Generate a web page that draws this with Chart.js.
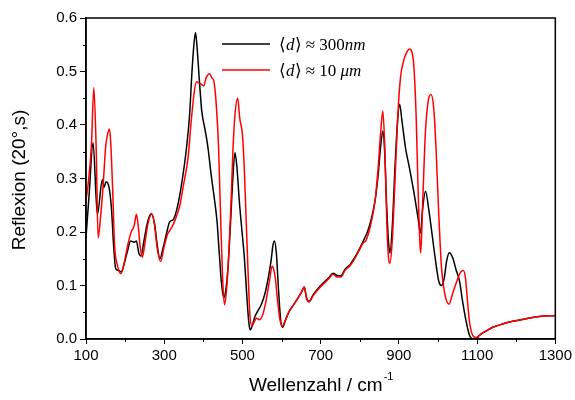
<!DOCTYPE html>
<html>
<head>
<meta charset="utf-8">
<script src="https://cdn.jsdelivr.net/npm/chart.js@4"></script>
<style>
  html, body { margin: 0; padding: 0; background: #fff; }
  #wrap { width: 575px; height: 400px; position: relative; }
</style>
</head>
<body>
<div id="wrap"><canvas id="reflexChart"></canvas></div>
<script>
// wavenumbers (cm^-1) and reflection values
const blackX = [100, 108, 118, 129, 142, 146, 151, 159, 165, 171, 176, 184, 190, 197, 206, 214, 223, 229, 235, 241, 248, 258, 267, 275, 282, 289, 297, 306, 314, 323, 331, 340, 348, 356, 365, 371, 376, 380, 384, 390, 396, 405, 412, 420, 429, 435, 441, 446, 452, 457, 463, 469, 475, 481, 486, 492, 498, 505, 511, 516, 520, 526, 532, 539, 548, 558, 566, 573, 578, 582, 587, 592, 598, 603, 609, 618, 628, 639, 650, 658, 664, 670, 681, 694, 707, 720, 732, 741, 752, 762, 775, 786, 796, 809, 820, 828, 839, 847, 853, 859, 864, 869, 874, 877, 883, 890, 896, 902, 908, 917, 927, 938, 949, 955, 961, 968, 977, 985, 994, 1002, 1009, 1016, 1022, 1029, 1038, 1046, 1055, 1063, 1072, 1080, 1089, 1097, 1106, 1123, 1140, 1165, 1191, 1225, 1259, 1300];
const blackY = [0.19, 0.27, 0.367, 0.233, 0.298, 0.283, 0.294, 0.283, 0.245, 0.17, 0.131, 0.128, 0.125, 0.139, 0.164, 0.183, 0.181, 0.183, 0.161, 0.155, 0.183, 0.22, 0.234, 0.217, 0.176, 0.15, 0.17, 0.198, 0.219, 0.223, 0.239, 0.27, 0.307, 0.351, 0.42, 0.5, 0.551, 0.573, 0.545, 0.482, 0.426, 0.389, 0.357, 0.307, 0.258, 0.22, 0.158, 0.108, 0.077, 0.089, 0.133, 0.208, 0.295, 0.348, 0.32, 0.258, 0.208, 0.151, 0.083, 0.033, 0.017, 0.027, 0.042, 0.052, 0.064, 0.086, 0.114, 0.145, 0.175, 0.183, 0.158, 0.095, 0.033, 0.022, 0.033, 0.049, 0.061, 0.073, 0.086, 0.097, 0.077, 0.07, 0.083, 0.095, 0.105, 0.114, 0.123, 0.119, 0.118, 0.13, 0.139, 0.151, 0.164, 0.183, 0.201, 0.22, 0.258, 0.307, 0.357, 0.389, 0.345, 0.245, 0.176, 0.161, 0.208, 0.32, 0.401, 0.439, 0.407, 0.357, 0.32, 0.276, 0.226, 0.198, 0.245, 0.276, 0.239, 0.195, 0.145, 0.108, 0.1, 0.114, 0.145, 0.161, 0.151, 0.13, 0.108, 0.07, 0.033, 0.008, 0.0, 0.0, 0.007, 0.015, 0.022, 0.028, 0.033, 0.038, 0.042, 0.044];

const redX = [100, 105, 114, 120, 126, 131, 137, 144, 150, 155, 160, 163, 168, 173, 180, 189, 195, 202, 209, 216, 223, 229, 234, 238, 244, 250, 258, 268, 275, 282, 291, 299, 308, 316, 325, 333, 340, 348, 361, 369, 376, 382, 388, 395, 401, 407, 416, 422, 427, 433, 439, 444, 449, 454, 459, 465, 471, 476, 481, 488, 493, 500, 505, 509, 514, 519, 524, 529, 536, 543, 552, 560, 569, 576, 579, 584, 590, 596, 602, 609, 618, 628, 639, 652, 658, 664, 670, 681, 694, 707, 720, 732, 741, 752, 762, 775, 786, 796, 809, 815, 828, 839, 847, 853, 859, 864, 869, 874, 877, 883, 890, 897, 904, 913, 921, 927, 933, 938, 944, 949, 954, 956, 961, 968, 975, 982, 989, 995, 1002, 1009, 1017, 1028, 1038, 1049, 1058, 1065, 1070, 1075, 1080, 1086, 1092, 1098, 1106, 1123, 1140, 1165, 1191, 1225, 1259, 1300];
const redY = [0.26, 0.286, 0.364, 0.47, 0.357, 0.189, 0.226, 0.289, 0.357, 0.382, 0.392, 0.37, 0.283, 0.176, 0.139, 0.122, 0.133, 0.158, 0.183, 0.201, 0.211, 0.233, 0.208, 0.176, 0.153, 0.176, 0.214, 0.233, 0.214, 0.17, 0.145, 0.17, 0.195, 0.205, 0.217, 0.233, 0.25, 0.283, 0.339, 0.407, 0.457, 0.481, 0.479, 0.476, 0.473, 0.488, 0.496, 0.488, 0.482, 0.439, 0.357, 0.233, 0.12, 0.064, 0.089, 0.158, 0.258, 0.357, 0.42, 0.45, 0.413, 0.382, 0.314, 0.233, 0.133, 0.046, 0.024, 0.03, 0.039, 0.036, 0.046, 0.07, 0.108, 0.136, 0.133, 0.114, 0.07, 0.036, 0.024, 0.034, 0.05, 0.061, 0.073, 0.089, 0.097, 0.075, 0.069, 0.081, 0.093, 0.103, 0.112, 0.121, 0.116, 0.116, 0.128, 0.137, 0.149, 0.162, 0.18, 0.183, 0.214, 0.258, 0.32, 0.382, 0.426, 0.357, 0.22, 0.148, 0.142, 0.183, 0.295, 0.414, 0.488, 0.522, 0.537, 0.542, 0.537, 0.513, 0.42, 0.283, 0.176, 0.161, 0.258, 0.389, 0.445, 0.457, 0.432, 0.357, 0.233, 0.133, 0.086, 0.065, 0.086, 0.11, 0.125, 0.128, 0.115, 0.075, 0.035, 0.012, 0.004, 0.003, 0.007, 0.015, 0.022, 0.028, 0.033, 0.038, 0.042, 0.044];

const xTicks = [100, 300, 500, 700, 900, 1100, 1300];
const xMinorTicks = [200, 400, 600, 800, 1000, 1200];
const yTicks = [0, 0.1, 0.2, 0.3, 0.4, 0.5, 0.6];
const yMinorTicks = [0.05, 0.15, 0.25, 0.35, 0.45, 0.55];

const toPoints = (xs, ys) => xs.map((x, i) => ({ x: x, y: ys[i] }));
const SANS = "'Liberation Sans', Arial, sans-serif";
const SERIF = "'Liberation Serif', 'Times New Roman', serif";

// frame, minor ticks, axis titles and the legend
const decorPlugin = {
  id: "decor",
  afterDraw(chart) {
    const c = chart.ctx;
    const a = chart.chartArea;
    const xs = chart.scales.x;
    const ys = chart.scales.y;
    c.save();
    c.strokeStyle = "#000";
    c.lineWidth = 1.5;
    c.strokeRect(a.left, a.top, a.right - a.left, a.bottom - a.top);

    c.lineWidth = 1;
    c.beginPath();
    xMinorTicks.forEach(v => {
      const px = Math.round(xs.getPixelForValue(v)) + 0.5;
      c.moveTo(px, a.bottom);
      c.lineTo(px, a.bottom + 3);
    });
    yMinorTicks.forEach(v => {
      const py = Math.round(ys.getPixelForValue(v)) + 0.5;
      c.moveTo(a.left, py);
      c.lineTo(a.left - 3, py);
    });
    c.stroke();

    // x axis title, cm^-1 with a raised exponent
    c.fillStyle = "#000";
    c.textBaseline = "alphabetic";
    c.textAlign = "left";
    const main = "Wellenzahl / cm";
    c.font = "19px " + SANS;
    const wMain = c.measureText(main).width;
    c.font = "11px " + SANS;
    const wSup = c.measureText("-1").width;
    const startX = (a.left + a.right) / 2 - (wMain + wSup) / 2;
    c.font = "19px " + SANS;
    c.fillText(main, startX, 391);
    c.font = "11px " + SANS;
    c.fillText("-1", startX + wMain + 1, 380);

    // y axis title
    c.save();
    c.translate(25, 180);
    c.rotate(-Math.PI / 2);
    c.textAlign = "center";
    c.font = "19px " + SANS;
    c.fillText("Reflexion (20°,s)", 0, 0);
    c.restore();

    // legend
    const entries = [
      { color: "#000000", y: 44, parts: [["⟨", false], ["d", true], ["⟩", false], [" ≈ 300", false], ["nm", true]] },
      { color: "#ff0000", y: 70, parts: [["⟨", false], ["d", true], ["⟩", false], [" ≈ 10 ", false], ["μm", true]] }
    ];
    entries.forEach(e => {
      c.strokeStyle = e.color;
      c.lineWidth = 1.5;
      c.beginPath();
      c.moveTo(222, e.y);
      c.lineTo(270, e.y);
      c.stroke();
      let tx = 279;
      e.parts.forEach(p => {
        c.font = (p[1] ? "italic " : "") + "17px " + SERIF;
        c.fillStyle = "#000";
        c.fillText(p[0], tx, e.y + 6);
        tx += c.measureText(p[0]).width;
      });
    });
    c.restore();
  }
};

const ctx = document.getElementById("reflexChart").getContext("2d");
const reflexChart = new Chart(ctx, {
  type: "line",
  data: {
    datasets: [
      {
        label: "300 nm",
        data: toPoints(blackX, blackY),
        borderColor: "#000000",
        borderWidth: 1.5,
        pointRadius: 0,
        cubicInterpolationMode: "monotone",
        fill: false,
        order: 1,
      },
      {
        label: "10 µm",
        data: toPoints(redX, redY),
        borderColor: "#ff0000",
        borderWidth: 1.5,
        pointRadius: 0,
        cubicInterpolationMode: "monotone",
        fill: false,
        order: 0, // red on top, as in the figure
      },
    ],
  },
  options: {
    responsive: true,
    maintainAspectRatio: false,
    animation: false,
    layout: { padding: { top: 18, right: 19, left: 0, bottom: 0 } },
    scales: {
      x: {
        type: "linear",
        min: 100,
        max: 1300,
        afterBuildTicks: function (scale) {
          scale.ticks = xTicks.map(v => ({ value: v }));
        },
        afterFit: function (scale) {
          scale.height = 61;
        },
        grid: { drawOnChartArea: false, tickLength: 5, tickColor: "#000", tickWidth: 1 },
        border: { color: "#000", width: 1.5 },
        ticks: {
          color: "#000",
          padding: 3,
          maxRotation: 0,
          font: { family: SANS, size: 15 },
          callback: function (value) {
            return String(value);
          },
        },
      },
      y: {
        min: 0,
        max: 0.6,
        afterBuildTicks: function (scale) {
          scale.ticks = yTicks.map(v => ({ value: v }));
        },
        afterFit: function (scale) {
          scale.width = 86;
        },
        grid: { drawOnChartArea: false, tickLength: 6, tickColor: "#000", tickWidth: 1 },
        border: { color: "#000", width: 1.5 },
        ticks: {
          color: "#000",
          padding: 3,
          font: { family: SANS, size: 15 },
          callback: function (value) {
            return value.toFixed(1);
          },
        },
      },
    },
    plugins: {
      legend: { display: false },
      tooltip: { enabled: false },
    },
  },
  plugins: [decorPlugin],
});
</script>
</body>
</html>
